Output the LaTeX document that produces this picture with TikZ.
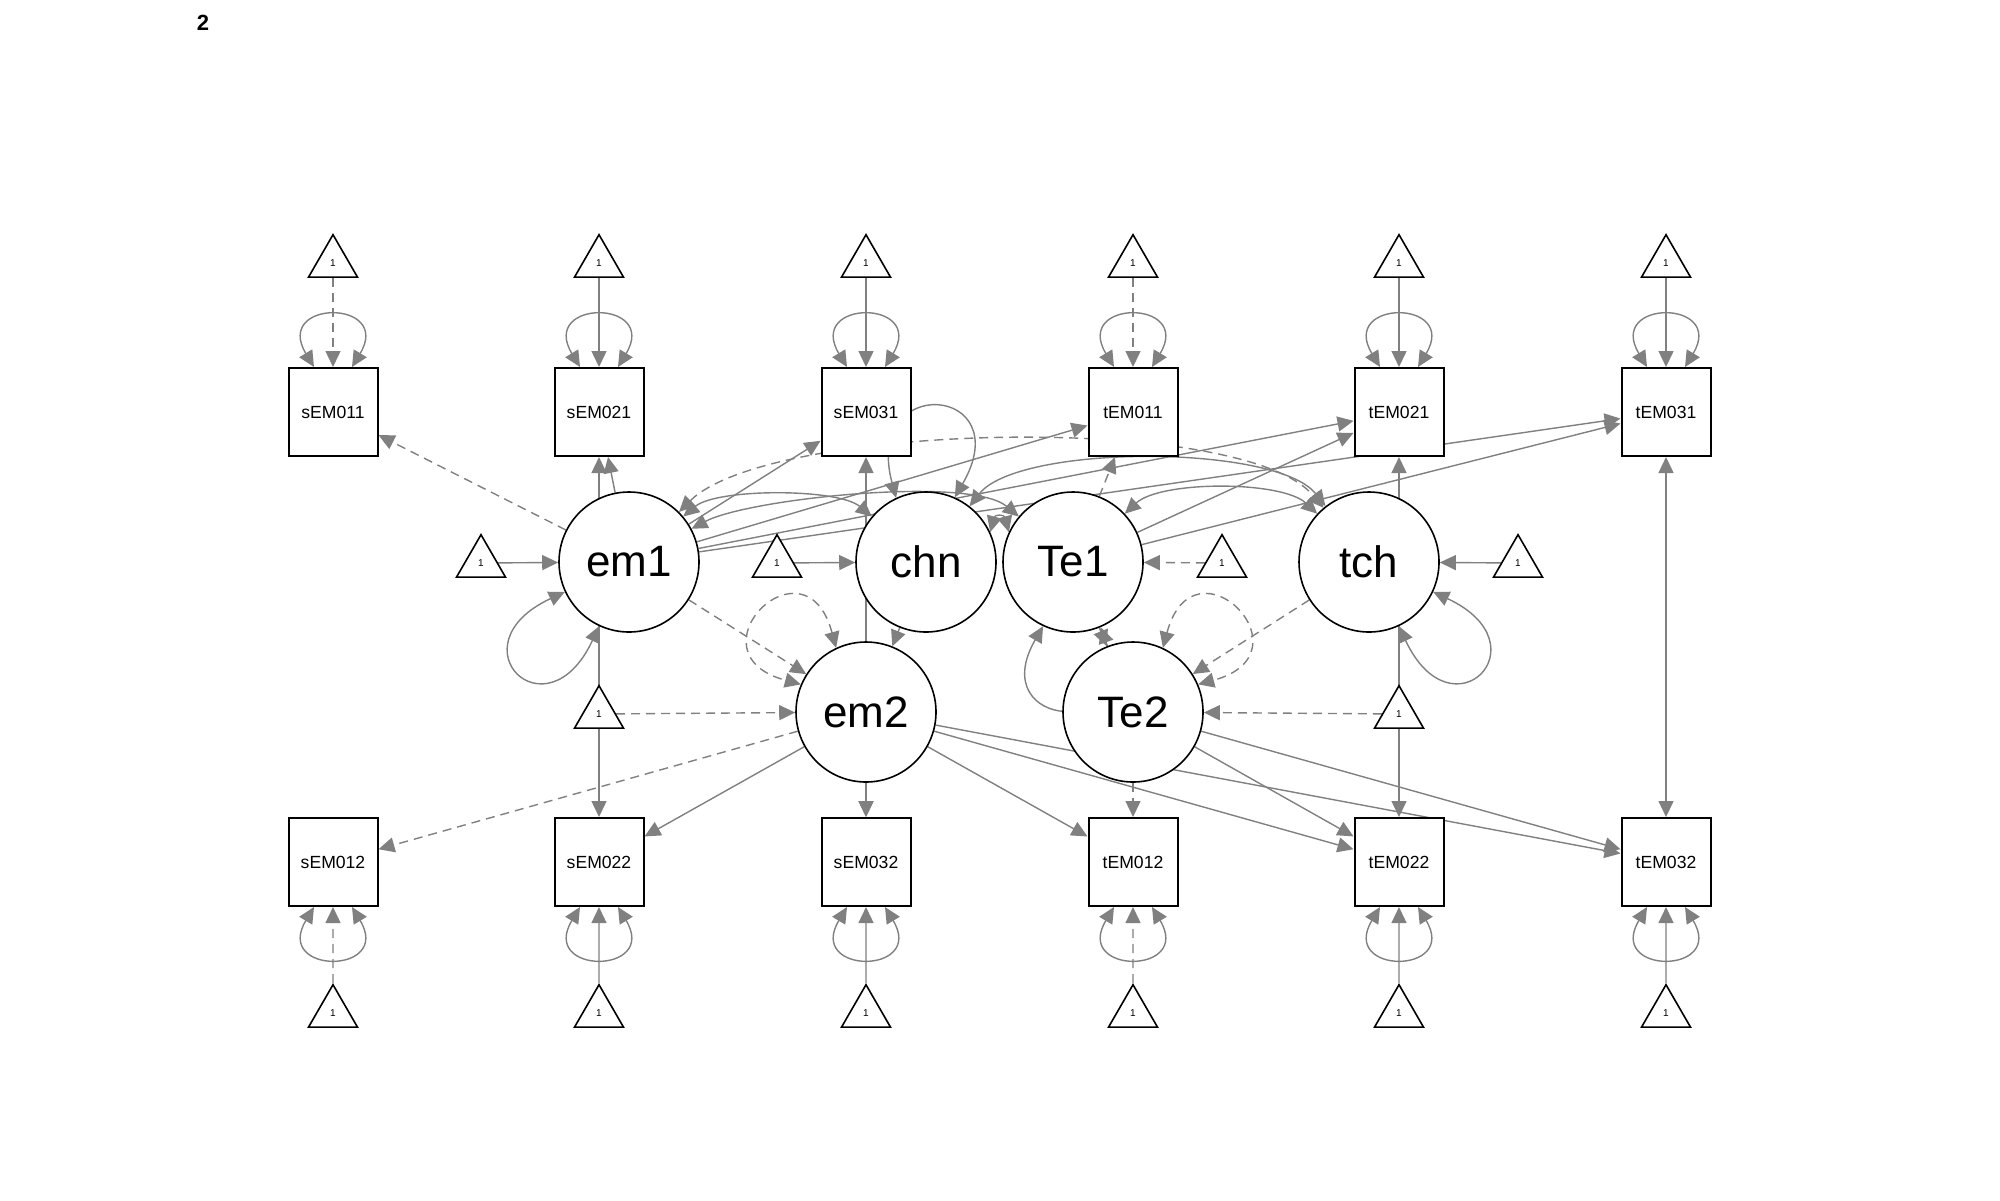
\documentclass[tikz,border=0pt]{standalone}
\usepackage{fontspec}
\setmainfont{Liberation Sans}
\usetikzlibrary{arrows.meta,shapes.geometric,calc,backgrounds}

\tikzset{
  manifest/.style={draw, rectangle, line width=1pt, fill=white, minimum width=44.5pt,
    minimum height=44pt, inner sep=0pt, font=\fontsize{8.8}{10}\selectfont},
  latent/.style={draw, circle, line width=0.8pt, fill=white, minimum size=70pt,
    inner sep=0pt, font=\fontsize{22}{24}\selectfont},
  const/.style={draw, regular polygon, regular polygon sides=3, line width=0.8pt,
    fill=white, minimum size=28.3pt, inner sep=0pt, font=\fontsize{5}{6}\selectfont},
  reg/.style={draw=gray, line width=0.7pt, -{Triangle[length=8pt,width=7.5pt]}},
  cov/.style={draw=gray, line width=0.7pt,
    {Triangle[length=8pt,width=7.5pt]}-{Triangle[length=8pt,width=7.5pt]}},
  fixed/.style={dash pattern=on 4.5pt off 3pt},
  free/.style={solid},
}

\begin{document}
\begin{tikzpicture}[x=0.5pt, y=0.5pt]
\useasboundingbox (0,0) rectangle (2000,-1200);

\node[font=\bfseries\fontsize{11}{13}\selectfont] (pagenum) at (203,-23) {2};

% indicators with their intercepts and residual variances
\foreach \x/\ind/\lk in {333/sEM01/fixed, 599/sEM02/free, 866/sEM03/free,
                         1133/tEM01/fixed, 1399/tEM02/free, 1666/tEM03/free} {
  \node[manifest] (\ind1) at (\x,-412) {\ind1};
  \node[manifest] (\ind2) at (\x,-862) {\ind2};
  \node[const] (one-\ind1) at (\x,-263) {1};
  \node[const] (one-\ind2) at (\x,-1013) {1};
  \begin{pgfonlayer}{background}
    \draw[reg,\lk] (one-\ind1) -- (\ind1);
    \draw[reg,\lk] (one-\ind2) -- (\ind2);
    \draw[cov] ($(\ind1.north)+(-19,0)$) .. controls ($(\ind1.north)+(-60,68)$)
      and ($(\ind1.north)+(60,68)$) .. ($(\ind1.north)+(19,0)$);
    \draw[cov] ($(\ind2.south)+(-19,0)$) .. controls ($(\ind2.south)+(-60,-68)$)
      and ($(\ind2.south)+(60,-68)$) .. ($(\ind2.south)+(19,0)$);
  \end{pgfonlayer}
}

% latent variables
\node[latent] (em1) at (629,-562) {em1};
\node[latent] (chn) at (926,-562) {chn};
\node[latent] (Te1) at (1073,-562) {Te1};
\node[latent] (tch) at (1369,-562) {tch};
\node[latent] (em2) at (866,-712) {em2};
\node[latent] (Te2) at (1133,-712) {Te2};

% latent intercepts
\node[const] (one-em1) at (481,-563) {1};
\node[const] (one-chn) at (777,-563) {1};
\node[const] (one-Te1) at (1222,-563) {1};
\node[const] (one-tch) at (1518,-563) {1};
\node[const] (one-em2) at (599,-714) {1};
\node[const] (one-Te2) at (1399,-714) {1};

\begin{pgfonlayer}{background}
% loadings
\draw[reg,fixed] (em1) -- (sEM011);
\draw[reg] (em1) -- (sEM021);
\draw[reg] (em1) -- (sEM031);
\draw[reg] (em1) -- (tEM011);
\draw[reg] (em1) -- (tEM021);
\draw[reg] (em1) -- (tEM031);
\draw[reg,fixed] (Te1) -- (tEM011);
\draw[reg] (Te1) -- (tEM021);
\draw[reg] (Te1) -- (tEM031);
\draw[reg,fixed] (em2) -- (sEM012);
\draw[reg] (em2) -- (sEM022);
\draw[reg] (em2) -- (sEM032);
\draw[reg] (em2) -- (tEM012);
\draw[reg] (em2) -- (tEM022);
\draw[reg] (em2) -- (tEM032);
\draw[reg,fixed] (Te2) -- (tEM012);
\draw[reg] (Te2) -- (tEM022);
\draw[reg] (Te2) -- (tEM032);

% intercepts
\draw[reg] (one-em1) -- (em1);
\draw[reg] (one-chn) -- (chn);
\draw[reg,fixed] (one-Te1) -- (Te1);
\draw[reg] (one-tch) -- (tch);
\draw[reg,fixed] (one-em2) -- (em2);
\draw[reg,fixed] (one-Te2) -- (Te2);

% change structure
\draw[reg,fixed] (em1) -- (em2);
\draw[reg,fixed] (chn) -- (em2);
\draw[reg,fixed] (Te1) -- (Te2);
\draw[reg,fixed] (tch) -- (Te2);

% residual covariances
\draw[cov] (sEM021) -- (sEM022);
\draw[cov] (sEM031) -- (sEM032);
\draw[cov] (tEM021) -- (tEM022);
\draw[cov] (tEM031) -- (tEM032);

% latent covariances
\draw[cov] (em1) to[out=40,in=140,looseness=0.6] (chn);
\draw[cov] (em1) to[out=28,in=140,looseness=0.5] (Te1);
\draw[cov,fixed] (em1) to[out=45,in=130,looseness=0.5] (tch);
\draw[cov] (chn.25) to[out=75,in=105,looseness=2.5] (Te1.155);
\draw[cov] (chn) to[out=52,in=128,looseness=0.57] (tch);
\draw[cov] (Te1) to[out=43,in=137,looseness=0.65] (tch);

% latent variances
\draw[cov] (em1.205) to[out=205,in=245,distance=62.5pt] (em1.245);
\draw[cov] (tch.335) to[out=335,in=295,distance=62.5pt] (tch.295);
\draw[cov] (chn.115) to[out=105,in=60,distance=65pt] (chn.66);
\draw[cov] (Te1.245) to[out=240,in=290,distance=60pt] (Te1.293);
\draw[cov,fixed] (em2.115) to[out=105,in=165,distance=60pt] (em2.157);
\draw[cov,fixed] (Te2.65) to[out=75,in=15,distance=60pt] (Te2.23);
\end{pgfonlayer}

\end{tikzpicture}
\end{document}
